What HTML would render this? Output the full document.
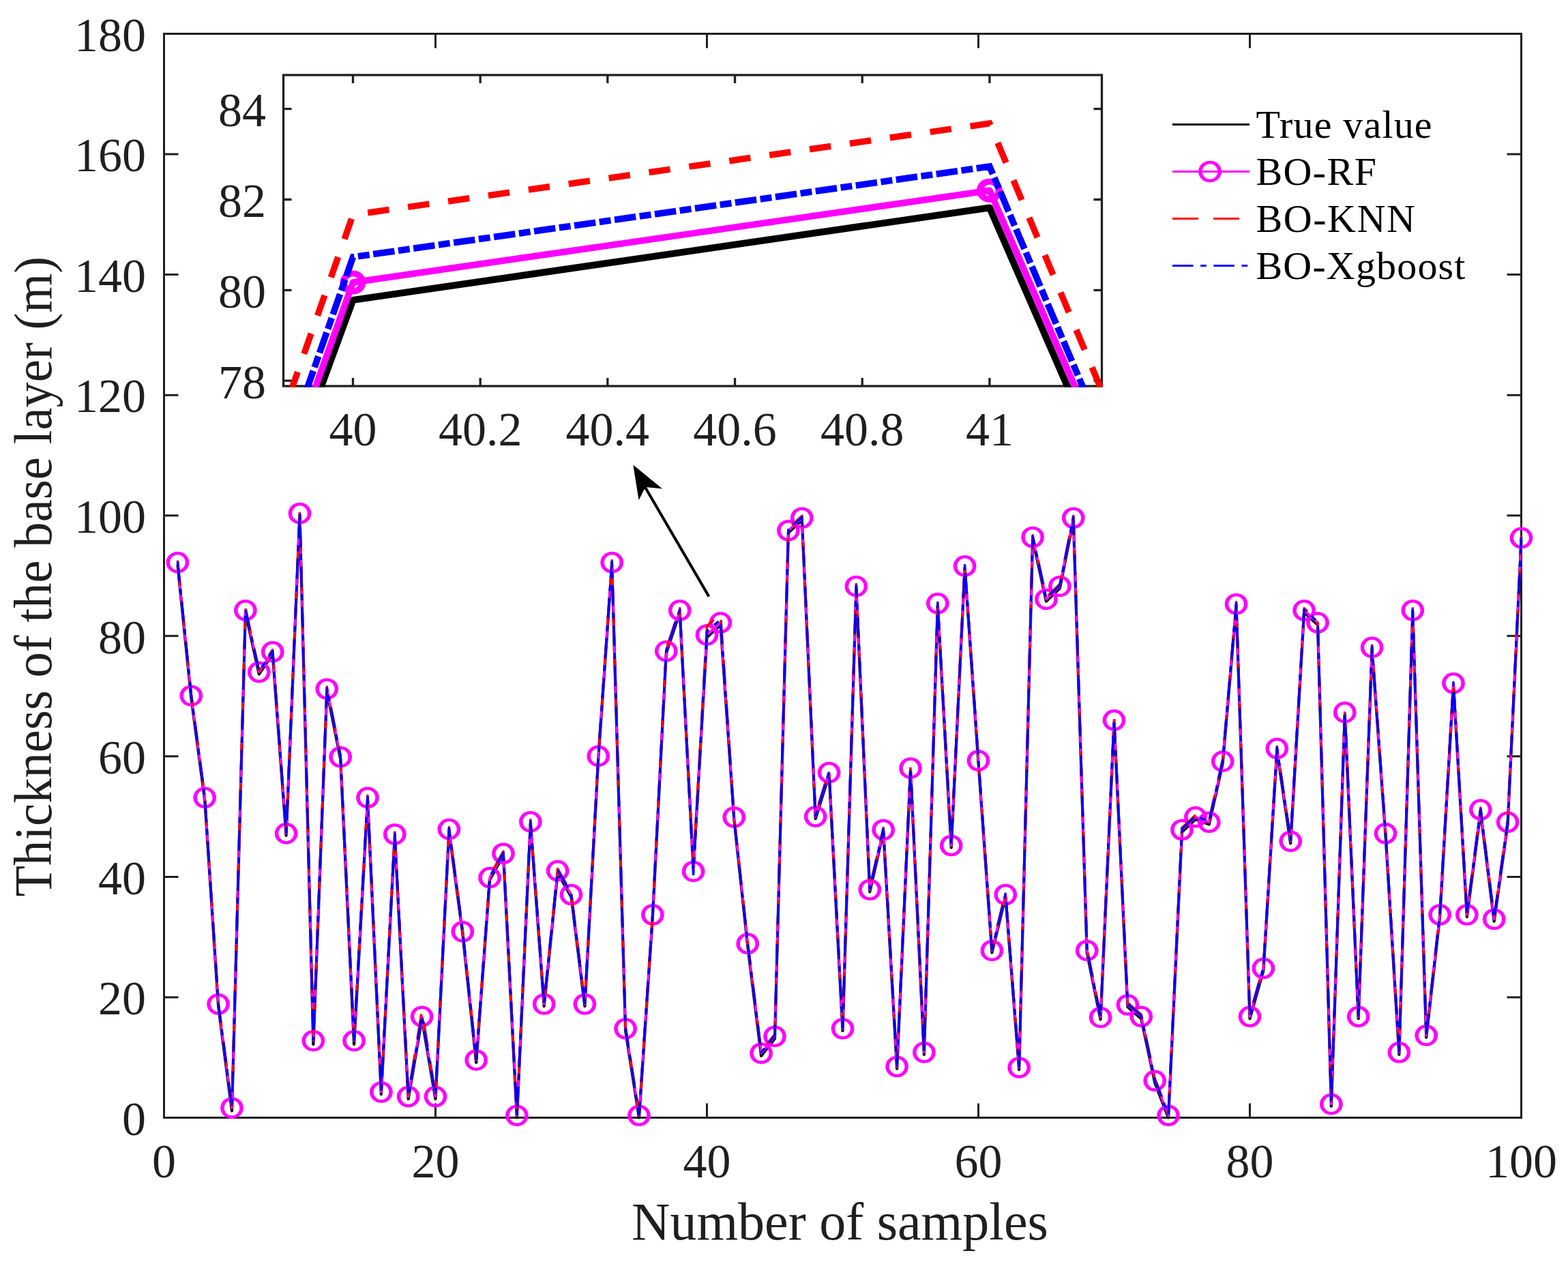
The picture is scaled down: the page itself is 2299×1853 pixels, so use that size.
<!DOCTYPE html><html><head><meta charset="utf-8"><title>Thickness of the base layer</title>
<style>html,body{margin:0;padding:0;background:#fff;}svg{display:block;}text{font-family:'Liberation Serif','Times New Roman',serif;}</style></head><body>
<svg width="2299" height="1853" viewBox="0 0 2299 1853">
<rect x="0" y="0" width="2299" height="1853" fill="#fff"/>
<defs><path id="mk" d="M-16.85 0a16.85 15.8 0 1 0 33.7 0a16.85 15.8 0 1 0-33.7 0ZM-11.3 0a11.3 11.3 0 1 0 22.6 0a11.3 11.3 0 1 0-22.6 0Z" fill="#f0f" fill-rule="evenodd"/><path id="mk2" d="M-19 0a19 17.5 0 1 0 38 0a19 17.5 0 1 0-38 0ZM-8.7 0a8.7 8.7 0 1 0 17.4 0a8.7 8.7 0 1 0-17.4 0Z" fill="#f0f" fill-rule="evenodd"/><clipPath id="ic"><rect x="413.9" y="108.4" width="1203.2" height="459.2"/></clipPath></defs>
<g stroke="#1f1f1f" stroke-width="3" fill="none">
<rect x="240.5" y="49.5" width="1990.0" height="1589.0"/>
<path d="M240.5 1638.50H261.5M2230.5 1638.50H2209.5M240.5 1461.94H261.5M2230.5 1461.94H2209.5M240.5 1285.39H261.5M2230.5 1285.39H2209.5M240.5 1108.83H261.5M2230.5 1108.83H2209.5M240.5 932.28H261.5M2230.5 932.28H2209.5M240.5 755.72H261.5M2230.5 755.72H2209.5M240.5 579.17H261.5M2230.5 579.17H2209.5M240.5 402.61H261.5M2230.5 402.61H2209.5M240.5 226.06H261.5M2230.5 226.06H2209.5M240.5 49.50H261.5M2230.5 49.50H2209.5M240.50 1638.5V1617.5M240.50 49.5V70.5M638.50 1638.5V1617.5M638.50 49.5V70.5M1036.50 1638.5V1617.5M1036.50 49.5V70.5M1434.50 1638.5V1617.5M1434.50 49.5V70.5M1832.50 1638.5V1617.5M1832.50 49.5V70.5M2230.50 1638.5V1617.5M2230.50 49.5V70.5"/>
</g>
<g fill="none" stroke-linejoin="round" stroke-linecap="butt">
<polyline points="260.40,827.67 280.30,1023.03 300.20,1172.39 320.10,1475.10 340.00,1628.52 359.90,897.94 379.80,988.33 399.70,958.76 419.60,1224.92 439.50,755.72 459.40,1530.98 479.30,1013.05 499.20,1112.81 519.10,1530.98 539.00,1172.39 558.90,1604.07 578.80,1226.07 598.70,1611.13 618.60,1493.28 638.50,1611.13 658.40,1218.74 678.30,1368.81 698.20,1557.73 718.10,1289.71 738.00,1254.32 757.90,1638.41 777.80,1207.79 797.70,1475.10 817.60,1279.65 837.50,1314.61 857.40,1475.10 877.30,1111.48 897.20,827.67 917.10,1511.12 937.00,1638.41 956.90,1344.09 976.80,957.70 996.70,897.94 1016.60,1272.15 1036.50,934.22 1056.40,916.21 1076.30,1201.08 1096.20,1386.47 1116.10,1547.93 1136.00,1522.41 1155.90,780.88 1175.80,762.34 1195.70,1200.20 1215.60,1135.76 1235.50,1511.12 1255.40,862.54 1275.30,1307.37 1295.20,1219.62 1315.10,1566.55 1335.00,1129.23 1354.90,1545.90 1374.80,887.70 1394.70,1242.57 1414.60,832.97 1434.50,1118.10 1454.40,1396.53 1474.30,1314.61 1494.20,1568.05 1514.10,790.59 1534.00,881.52 1553.90,862.54 1573.80,762.34 1593.70,1396.53 1613.60,1494.52 1633.50,1058.96 1653.40,1476.16 1673.30,1493.46 1693.20,1587.39 1713.10,1638.41 1733.00,1219.62 1752.90,1200.91 1772.80,1208.41 1792.70,1119.25 1812.60,888.58 1832.50,1493.46 1852.40,1422.66 1872.30,1100.45 1892.20,1236.39 1912.10,897.94 1932.00,915.95 1951.90,1621.73 1971.80,1047.48 1991.70,1493.46 2011.60,952.14 2031.50,1224.92 2051.40,1545.90 2071.30,897.94 2091.20,1521.00 2111.10,1344.09 2131.00,1004.67 2150.90,1344.09 2170.80,1190.14 2190.70,1350.63 2210.60,1208.41 2230.50,791.65" stroke="#000" stroke-width="4.2"/>
<polyline points="260.40,824.58 280.30,1019.94 300.20,1169.30 320.10,1472.01 340.00,1624.20 359.90,894.85 379.80,985.24 399.70,955.67 419.60,1221.83 439.50,752.63 459.40,1525.68 479.30,1009.96 499.20,1109.72 519.10,1525.68 539.00,1169.30 558.90,1600.98 578.80,1222.98 598.70,1607.60 618.60,1490.19 638.50,1607.60 658.40,1215.65 678.30,1365.72 698.20,1553.93 718.10,1286.62 738.00,1251.23 757.90,1635.32 777.80,1204.70 797.70,1472.01 817.60,1276.56 837.50,1311.52 857.40,1472.01 877.30,1108.39 897.20,824.58 917.10,1508.03 937.00,1635.32 956.90,1341.00 976.80,954.61 996.70,894.85 1016.60,1277.44 1036.50,930.78 1056.40,912.86 1076.30,1197.99 1096.20,1383.38 1116.10,1544.04 1136.00,1519.33 1155.90,777.79 1175.80,759.25 1195.70,1197.11 1215.60,1132.67 1235.50,1508.03 1255.40,859.45 1275.30,1304.28 1295.20,1216.53 1315.10,1563.46 1335.00,1126.14 1354.90,1542.81 1374.80,884.61 1394.70,1239.48 1414.60,829.88 1434.50,1115.01 1454.40,1393.44 1474.30,1311.52 1494.20,1564.96 1514.10,787.50 1534.00,878.43 1553.90,859.45 1573.80,759.25 1593.70,1393.44 1613.60,1491.43 1633.50,1055.87 1653.40,1473.07 1673.30,1490.37 1693.20,1584.30 1713.10,1635.32 1733.00,1216.53 1752.90,1197.82 1772.80,1205.32 1792.70,1116.16 1812.60,885.49 1832.50,1490.37 1852.40,1419.57 1872.30,1097.36 1892.20,1233.31 1912.10,894.85 1932.00,912.86 1951.90,1618.64 1971.80,1044.39 1991.70,1490.37 2011.60,949.05 2031.50,1221.83 2051.40,1542.81 2071.30,894.85 2091.20,1517.91 2111.10,1341.00 2131.00,1001.58 2150.90,1341.00 2170.80,1187.05 2190.70,1347.54 2210.60,1205.32 2230.50,788.56" stroke="#f0f" stroke-width="3.5"/>
<use href="#mk" x="260.40" y="824.58"/>
<use href="#mk" x="280.30" y="1019.94"/>
<use href="#mk" x="300.20" y="1169.30"/>
<use href="#mk" x="320.10" y="1472.01"/>
<use href="#mk" x="340.00" y="1624.20"/>
<use href="#mk" x="359.90" y="894.85"/>
<use href="#mk" x="379.80" y="985.24"/>
<use href="#mk" x="399.70" y="955.67"/>
<use href="#mk" x="419.60" y="1221.83"/>
<use href="#mk" x="439.50" y="752.63"/>
<use href="#mk" x="459.40" y="1525.68"/>
<use href="#mk" x="479.30" y="1009.96"/>
<use href="#mk" x="499.20" y="1109.72"/>
<use href="#mk" x="519.10" y="1525.68"/>
<use href="#mk" x="539.00" y="1169.30"/>
<use href="#mk" x="558.90" y="1600.98"/>
<use href="#mk" x="578.80" y="1222.98"/>
<use href="#mk" x="598.70" y="1607.60"/>
<use href="#mk" x="618.60" y="1490.19"/>
<use href="#mk" x="638.50" y="1607.60"/>
<use href="#mk" x="658.40" y="1215.65"/>
<use href="#mk" x="678.30" y="1365.72"/>
<use href="#mk" x="698.20" y="1553.93"/>
<use href="#mk" x="718.10" y="1286.62"/>
<use href="#mk" x="738.00" y="1251.23"/>
<use href="#mk" x="757.90" y="1635.32"/>
<use href="#mk" x="777.80" y="1204.70"/>
<use href="#mk" x="797.70" y="1472.01"/>
<use href="#mk" x="817.60" y="1276.56"/>
<use href="#mk" x="837.50" y="1311.52"/>
<use href="#mk" x="857.40" y="1472.01"/>
<use href="#mk" x="877.30" y="1108.39"/>
<use href="#mk" x="897.20" y="824.58"/>
<use href="#mk" x="917.10" y="1508.03"/>
<use href="#mk" x="937.00" y="1635.32"/>
<use href="#mk" x="956.90" y="1341.00"/>
<use href="#mk" x="976.80" y="954.61"/>
<use href="#mk" x="996.70" y="894.85"/>
<use href="#mk" x="1016.60" y="1277.44"/>
<use href="#mk" x="1036.50" y="930.78"/>
<use href="#mk" x="1056.40" y="912.86"/>
<use href="#mk" x="1076.30" y="1197.99"/>
<use href="#mk" x="1096.20" y="1383.38"/>
<use href="#mk" x="1116.10" y="1544.04"/>
<use href="#mk" x="1136.00" y="1519.33"/>
<use href="#mk" x="1155.90" y="777.79"/>
<use href="#mk" x="1175.80" y="759.25"/>
<use href="#mk" x="1195.70" y="1197.11"/>
<use href="#mk" x="1215.60" y="1132.67"/>
<use href="#mk" x="1235.50" y="1508.03"/>
<use href="#mk" x="1255.40" y="859.45"/>
<use href="#mk" x="1275.30" y="1304.28"/>
<use href="#mk" x="1295.20" y="1216.53"/>
<use href="#mk" x="1315.10" y="1563.46"/>
<use href="#mk" x="1335.00" y="1126.14"/>
<use href="#mk" x="1354.90" y="1542.81"/>
<use href="#mk" x="1374.80" y="884.61"/>
<use href="#mk" x="1394.70" y="1239.48"/>
<use href="#mk" x="1414.60" y="829.88"/>
<use href="#mk" x="1434.50" y="1115.01"/>
<use href="#mk" x="1454.40" y="1393.44"/>
<use href="#mk" x="1474.30" y="1311.52"/>
<use href="#mk" x="1494.20" y="1564.96"/>
<use href="#mk" x="1514.10" y="787.50"/>
<use href="#mk" x="1534.00" y="878.43"/>
<use href="#mk" x="1553.90" y="859.45"/>
<use href="#mk" x="1573.80" y="759.25"/>
<use href="#mk" x="1593.70" y="1393.44"/>
<use href="#mk" x="1613.60" y="1491.43"/>
<use href="#mk" x="1633.50" y="1055.87"/>
<use href="#mk" x="1653.40" y="1473.07"/>
<use href="#mk" x="1673.30" y="1490.37"/>
<use href="#mk" x="1693.20" y="1584.30"/>
<use href="#mk" x="1713.10" y="1635.32"/>
<use href="#mk" x="1733.00" y="1216.53"/>
<use href="#mk" x="1752.90" y="1197.82"/>
<use href="#mk" x="1772.80" y="1205.32"/>
<use href="#mk" x="1792.70" y="1116.16"/>
<use href="#mk" x="1812.60" y="885.49"/>
<use href="#mk" x="1832.50" y="1490.37"/>
<use href="#mk" x="1852.40" y="1419.57"/>
<use href="#mk" x="1872.30" y="1097.36"/>
<use href="#mk" x="1892.20" y="1233.31"/>
<use href="#mk" x="1912.10" y="894.85"/>
<use href="#mk" x="1932.00" y="912.86"/>
<use href="#mk" x="1951.90" y="1618.64"/>
<use href="#mk" x="1971.80" y="1044.39"/>
<use href="#mk" x="1991.70" y="1490.37"/>
<use href="#mk" x="2011.60" y="949.05"/>
<use href="#mk" x="2031.50" y="1221.83"/>
<use href="#mk" x="2051.40" y="1542.81"/>
<use href="#mk" x="2071.30" y="894.85"/>
<use href="#mk" x="2091.20" y="1517.91"/>
<use href="#mk" x="2111.10" y="1341.00"/>
<use href="#mk" x="2131.00" y="1001.58"/>
<use href="#mk" x="2150.90" y="1341.00"/>
<use href="#mk" x="2170.80" y="1187.05"/>
<use href="#mk" x="2190.70" y="1347.54"/>
<use href="#mk" x="2210.60" y="1205.32"/>
<use href="#mk" x="2230.50" y="788.56"/>
<polyline points="260.40,821.49 280.30,1016.85 300.20,1166.21 320.10,1468.92 340.00,1621.11 359.90,891.76 379.80,982.15 399.70,952.58 419.60,1218.74 439.50,749.54 459.40,1522.59 479.30,1006.87 499.20,1106.63 519.10,1522.59 539.00,1166.21 558.90,1597.89 578.80,1219.89 598.70,1604.51 618.60,1481.37 638.50,1604.51 658.40,1212.56 678.30,1362.63 698.20,1550.84 718.10,1283.54 738.00,1248.14 757.90,1632.23 777.80,1201.61 797.70,1468.92 817.60,1273.47 837.50,1308.43 857.40,1468.92 877.30,1105.30 897.20,821.49 917.10,1504.94 937.00,1632.23 956.90,1337.91 976.80,951.52 996.70,891.76 1016.60,1269.85 1036.50,917.62 1056.40,899.79 1076.30,1195.35 1096.20,1380.29 1116.10,1540.95 1136.00,1516.24 1155.90,774.70 1175.80,756.16 1195.70,1194.02 1215.60,1129.58 1235.50,1504.94 1255.40,856.36 1275.30,1301.19 1295.20,1213.44 1315.10,1560.37 1335.00,1123.05 1354.90,1539.72 1374.80,881.52 1394.70,1236.39 1414.60,826.79 1434.50,1111.92 1454.40,1390.35 1474.30,1308.43 1494.20,1561.87 1514.10,784.41 1534.00,875.34 1553.90,856.36 1573.80,756.16 1593.70,1390.35 1613.60,1488.34 1633.50,1052.78 1653.40,1469.98 1673.30,1487.28 1693.20,1581.21 1713.10,1632.23 1733.00,1213.44 1752.90,1194.73 1772.80,1202.23 1792.70,1113.07 1812.60,882.40 1832.50,1487.28 1852.40,1416.48 1872.30,1094.27 1892.20,1230.22 1912.10,891.76 1932.00,909.77 1951.90,1615.55 1971.80,1041.30 1991.70,1487.28 2011.60,945.96 2031.50,1218.74 2051.40,1539.72 2071.30,891.76 2091.20,1514.82 2111.10,1337.91 2131.00,998.49 2150.90,1337.91 2170.80,1183.96 2190.70,1344.45 2210.60,1202.23 2230.50,785.47" stroke="#f00" stroke-width="3.5" stroke-dasharray="37 22"/>
<polyline points="260.40,823.25 280.30,1018.61 300.20,1167.98 320.10,1470.68 340.00,1622.87 359.90,893.52 379.80,983.92 399.70,954.35 419.60,1220.50 439.50,751.31 459.40,1524.36 479.30,1008.64 499.20,1108.39 519.10,1524.36 539.00,1167.98 558.90,1599.66 578.80,1221.65 598.70,1606.28 618.60,1488.87 638.50,1606.28 658.40,1214.33 678.30,1364.40 698.20,1552.61 718.10,1285.30 738.00,1249.90 757.90,1634.00 777.80,1203.38 797.70,1470.68 817.60,1275.24 837.50,1310.19 857.40,1470.68 877.30,1107.07 897.20,823.25 917.10,1506.70 937.00,1634.00 956.90,1339.68 976.80,953.29 996.70,893.52 1016.60,1281.86 1036.50,925.83 1056.40,908.18 1076.30,1201.53 1096.20,1382.05 1116.10,1542.72 1136.00,1518.00 1155.90,776.47 1175.80,757.93 1195.70,1195.79 1215.60,1131.34 1235.50,1506.70 1255.40,858.12 1275.30,1302.96 1295.20,1215.21 1315.10,1562.14 1335.00,1124.81 1354.90,1541.48 1374.80,883.28 1394.70,1238.16 1414.60,828.55 1434.50,1113.69 1454.40,1392.12 1474.30,1310.19 1494.20,1563.64 1514.10,786.18 1534.00,877.10 1553.90,858.12 1573.80,757.93 1593.70,1392.12 1613.60,1490.11 1633.50,1054.54 1653.40,1471.74 1673.30,1489.05 1693.20,1582.97 1713.10,1634.00 1733.00,1215.21 1752.90,1196.49 1772.80,1204.00 1792.70,1114.84 1812.60,884.17 1832.50,1489.05 1852.40,1418.25 1872.30,1096.03 1892.20,1231.98 1912.10,893.52 1932.00,911.53 1951.90,1617.31 1971.80,1043.07 1991.70,1489.05 2011.60,947.73 2031.50,1220.50 2051.40,1541.48 2071.30,893.52 2091.20,1516.59 2111.10,1339.68 2131.00,1000.25 2150.90,1339.68 2170.80,1185.72 2190.70,1346.21 2210.60,1204.00 2230.50,787.24" stroke="#00f" stroke-width="3.5" stroke-dasharray="30 10 9 10"/>
</g>
<g fill="#1f1f1f" font-size="70">
<text x="214" y="1663.7" text-anchor="end">0</text>
<text x="214" y="1487.1" text-anchor="end">20</text>
<text x="214" y="1310.6" text-anchor="end">40</text>
<text x="214" y="1134.0" text-anchor="end">60</text>
<text x="214" y="957.5" text-anchor="end">80</text>
<text x="214" y="780.9" text-anchor="end">100</text>
<text x="214" y="604.4" text-anchor="end">120</text>
<text x="214" y="427.8" text-anchor="end">140</text>
<text x="214" y="251.3" text-anchor="end">160</text>
<text x="214" y="74.7" text-anchor="end">180</text>
<text x="240.50" y="1725.5" text-anchor="middle">0</text>
<text x="638.50" y="1725.5" text-anchor="middle">20</text>
<text x="1036.50" y="1725.5" text-anchor="middle">40</text>
<text x="1434.50" y="1725.5" text-anchor="middle">60</text>
<text x="1832.50" y="1725.5" text-anchor="middle">80</text>
<text x="2230.50" y="1725.5" text-anchor="middle">100</text>
</g>
<text x="1231.5" y="1816.5" text-anchor="middle" font-size="78" fill="#1f1f1f">Number of samples</text>
<text transform="translate(75,845.2) rotate(-90) scale(0.955,1)" text-anchor="middle" font-size="78" textLength="983" lengthAdjust="spacing" fill="#1f1f1f">Thickness of the base layer (m)</text>
<rect x="415.5" y="110.0" width="1200.0" height="456.0" fill="#fff"/>
<g stroke="#1f1f1f" stroke-width="3.3" fill="none">
<rect x="415.5" y="110.0" width="1200.0" height="456.0"/>
<path d="M415.5 558.10H427.5M1615.5 558.10H1603.5M415.5 425.30H427.5M1615.5 425.30H1603.5M415.5 292.50H427.5M1615.5 292.50H1603.5M415.5 159.70H427.5M1615.5 159.70H1603.5M517.50 566.0V554.0M517.50 110.0V122.0M704.18 566.0V554.0M704.18 110.0V122.0M890.86 566.0V554.0M890.86 110.0V122.0M1077.54 566.0V554.0M1077.54 110.0V122.0M1264.22 566.0V554.0M1264.22 110.0V122.0M1450.90 566.0V554.0M1450.90 110.0V122.0"/>
</g>
<g clip-path="url(#ic)" fill="none" stroke-linejoin="miter" stroke-linecap="butt">
<polyline points="-415.90,2981.70 517.50,439.91 1450.90,304.45 2384.30,2447.18" stroke="#000" stroke-width="10" stroke-linejoin="round"/>
<polyline points="-415.90,3021.54 517.50,414.01 1450.90,279.22 2384.30,2423.94" stroke="#f0f" stroke-width="9.6" stroke-linejoin="round"/>
<use href="#mk2" x="-415.90" y="3021.54"/>
<use href="#mk2" x="517.50" y="414.01"/>
<use href="#mk2" x="1450.90" y="279.22"/>
<use href="#mk2" x="2384.30" y="2423.94"/>
<polyline points="-415.90,2964.44 517.50,315.08 1450.90,180.95 2384.30,2404.02" stroke="#f00" stroke-width="9.3" stroke-dasharray="31.5 27.99" stroke-dashoffset="24.55"/>
<polyline points="-415.90,3054.74 517.50,376.83 1450.90,244.03 2384.30,2450.50" stroke="#00f" stroke-width="9.6" stroke-dasharray="31.6 5.5 17 5.46" stroke-dashoffset="52.56"/>
</g>
<g fill="#1f1f1f" font-size="70">
<text x="390" y="583.6" text-anchor="end">78</text>
<text x="390" y="450.8" text-anchor="end">80</text>
<text x="390" y="318.0" text-anchor="end">82</text>
<text x="390" y="185.2" text-anchor="end">84</text>
<text x="517.50" y="653.3" text-anchor="middle">40</text>
<text x="704.18" y="653.3" text-anchor="middle">40.2</text>
<text x="890.86" y="653.3" text-anchor="middle">40.4</text>
<text x="1077.54" y="653.3" text-anchor="middle">40.6</text>
<text x="1264.22" y="653.3" text-anchor="middle">40.8</text>
<text x="1450.90" y="653.3" text-anchor="middle">41</text>
</g>
<line x1="1039.4" y1="874.4" x2="944" y2="711" stroke="#000" stroke-width="4"/>
<polygon points="928.3,681.4 971.2,716.4 946.3,713.9 936.6,733.3" fill="#000"/>
<g fill="none">
<path d="M1719 182.4H1832" stroke="#000" stroke-width="3"/>
<path d="M1719 251.5H1832" stroke="#f0f" stroke-width="3"/>
<use href="#mk" x="1774" y="251.5"/>
<path d="M1719 320.5H1832" stroke="#f00" stroke-width="3" stroke-dasharray="38 22"/>
<path d="M1719 389.6H1832" stroke="#00f" stroke-width="3" stroke-dasharray="30.5 10.7 8.5 10.7"/>
</g>
<g fill="#000" font-size="58">
<text x="1841.5" y="202.0" textLength="258.1" lengthAdjust="spacing">True value</text>
<text x="1841.5" y="271.1" textLength="176.4" lengthAdjust="spacing">BO-RF</text>
<text x="1841.5" y="340.1" textLength="233.3" lengthAdjust="spacing">BO-KNN</text>
<text x="1841.5" y="409.2" textLength="306.9" lengthAdjust="spacing">BO-Xgboost</text>
</g>
</svg></body></html>
